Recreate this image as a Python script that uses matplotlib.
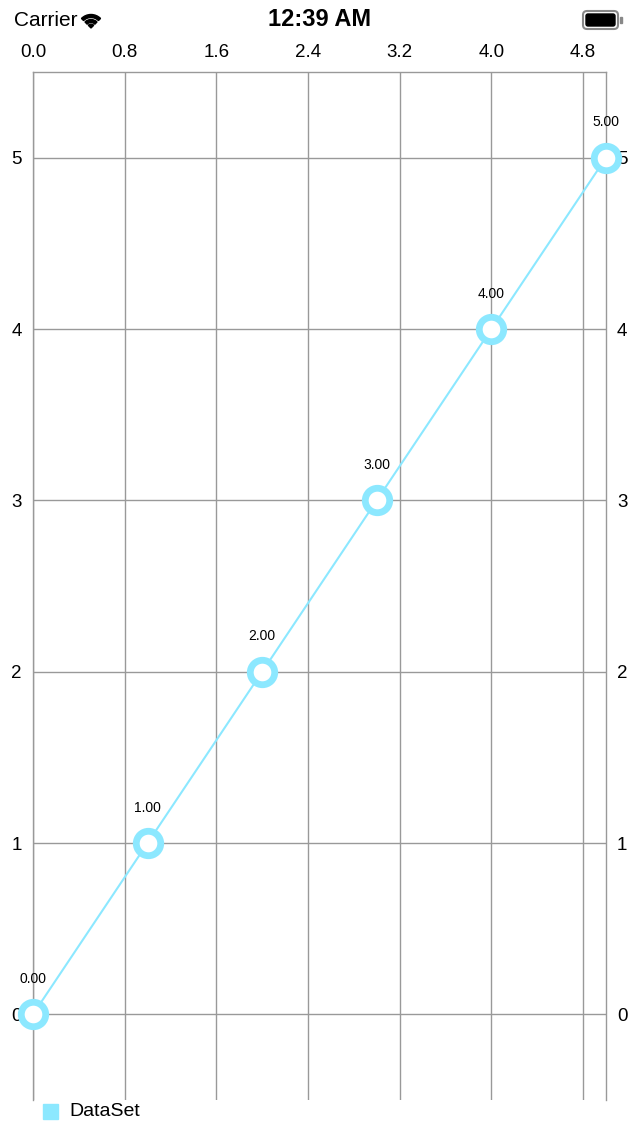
import matplotlib
matplotlib.use("Agg")
import matplotlib.pyplot as plt
from matplotlib.patches import FancyBboxPatch, Wedge, Rectangle
import numpy as np

# data
x_vals = [0, 1, 2, 3, 4, 5]
y_vals = [0, 1, 2, 3, 4, 5]
x_ticks = [0.0, 0.8, 1.6, 2.4, 3.2, 4.0, 4.8]
y_ticks = [0, 1, 2, 3, 4, 5]
series_name = "DataSet"

cyan = "#8ce8ff"
grid_col = "#999999"

plt.rcParams['font.family'] = ['Liberation Sans', 'DejaVu Sans']

fig = plt.figure(figsize=(6.4, 11.36), dpi=100)
W, H = 640, 1136

# status bar
fig.text(14 / W, 1 - 20 / H, "Carrier", fontsize=15, va="center", ha="left")
fig.text(320 / W, 1 - 20 / H, "12:39 AM", fontsize=17, fontweight="bold",
         va="center", ha="center")
# wifi icon
for r, wd in [(13.5, 3.0), (8.5, 3.0), (3.8, None)]:
    w = Wedge((91, 1136 - 28), r, 45, 135, width=wd,
              transform=None, color="black")
    fig.patches.append(w)
# battery
bat = FancyBboxPatch((583, 1136 - 29), 35, 18, boxstyle="round,pad=0,rounding_size=4",
                     transform=None, facecolor="white", edgecolor="#888888", lw=1.5)
fig.patches.append(bat)
fig.patches.append(FancyBboxPatch((586, 1136 - 26), 29, 12, boxstyle="round,pad=0,rounding_size=2",
                                  transform=None, color="black"))
fig.patches.append(Rectangle((620, 1136 - 23), 2, 6, transform=None, color="#888888"))

ax = fig.add_axes([33 / W, 1 - 1100 / H, (606 - 33) / W, (1100 - 72) / H])
ax.set_xlim(0, 5)
ax.set_ylim(-0.5, 5.5)
ax.set_xticks(x_ticks)
ax.set_xticklabels([f"{t:.1f}" for t in x_ticks])
ax.set_yticks(y_ticks)
ax.set_yticklabels([str(t) for t in y_ticks])
ax.xaxis.tick_top()
ax.tick_params(axis="x", length=0, pad=8, labelsize=13.5)
ax.tick_params(axis="y", length=0, pad=8, labelsize=13.5, labelleft=True, labelright=True)
ax.grid(True, color=grid_col, lw=1)
for s in ["top", "left", "right"]:
    ax.spines[s].set_color(grid_col)
    ax.spines[s].set_linewidth(1)
ax.spines["bottom"].set_visible(False)
ax.set_axisbelow(True)

ax.plot(x_vals, y_vals, color=cyan, lw=1.5, marker="o", markersize=17.6,
        markerfacecolor="white", markeredgecolor=cyan, markeredgewidth=4.9,
        clip_on=False, zorder=3, label=series_name)
for x, y in zip(x_vals, y_vals):
    ax.annotate(f"{y:.2f}", (x, y), xytext=(0, 25.5), textcoords="offset points",
                ha="center", va="center", fontsize=10, annotation_clip=False)

# legend
fig.patches.append(Rectangle((43, 1136 - 1119), 15, 15, transform=None, color=cyan))
fig.text(69 / W, 1 - 1112 / H, series_name, fontsize=14, va="center", ha="left")

fig.savefig("out.png", dpi=100)
